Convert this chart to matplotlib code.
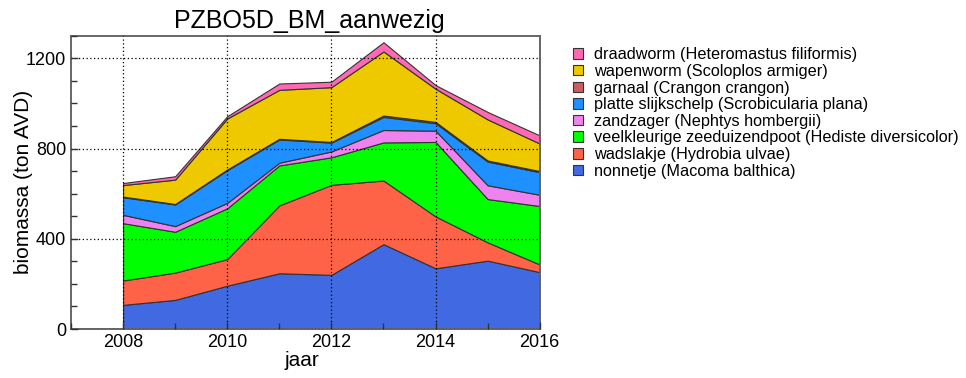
import matplotlib
matplotlib.use("Agg")
import matplotlib.pyplot as plt
from matplotlib.patches import Patch
from matplotlib.ticker import MultipleLocator
import numpy as np

plt.rcParams['font.family'] = ['Liberation Sans', 'DejaVu Sans']

jaren = [2008, 2009, 2010, 2011, 2012, 2013, 2014, 2015, 2016]

# biomassa per soort (ton AVD), van onder naar boven gestapeld
nonnetje = [107, 129, 192, 247, 240, 376, 269, 303, 252]
wadslakje = [108, 121, 118, 301, 399, 282, 230, 81, 34]
veelkleurige = [254, 181, 225, 177, 122, 169, 330, 192, 259]
zandzager = [37, 25, 24, 12, 26, 55, 50, 61, 50]
platte_slijkschelp = [78, 96, 145, 103, 39, 58, 33, 105, 100]
garnaal = [3, 2, 3, 3, 3, 6, 6, 5, 5]
wapenworm = [51, 108, 226, 217, 243, 284, 147, 182, 122]
draadworm = [9, 15, 10, 28, 24, 41, 16, 33, 36]

soorten = [
    ('nonnetje (Macoma balthica)', nonnetje, '#4169E1'),
    ('wadslakje (Hydrobia ulvae)', wadslakje, '#FF6347'),
    ('veelkleurige zeeduizendpoot (Hediste diversicolor)', veelkleurige, '#00FF00'),
    ('zandzager (Nephtys hombergii)', zandzager, '#EE82EE'),
    ('platte slijkschelp (Scrobicularia plana)', platte_slijkschelp, '#1E90FF'),
    ('garnaal (Crangon crangon)', garnaal, '#CD5C5C'),
    ('wapenworm (Scoloplos armiger)', wapenworm, '#EEC900'),
    ('draadworm (Heteromastus filiformis)', draadworm, '#FF69B4'),
]

fig = plt.figure(figsize=(9.66, 3.78), dpi=100)
ax = fig.add_axes([0.0735, 0.1296, 0.4852, 0.776])

onder = np.zeros(len(jaren))
for naam, waarden, kleur in soorten:
    boven = onder + np.array(waarden, dtype=float)
    ax.fill_between(jaren, onder, boven, facecolor=kleur, edgecolor='#333333',
                    linewidth=0.8, zorder=2)
    onder = boven

ax.set_xlim(2007, 2016)
ax.set_ylim(0, 1300)
ax.xaxis.set_major_locator(MultipleLocator(2))
ax.xaxis.set_minor_locator(MultipleLocator(1))
ax.yaxis.set_major_locator(MultipleLocator(400))
ax.yaxis.set_minor_locator(MultipleLocator(100))
ax.tick_params(which='both', direction='in', color='#333333', labelsize=13)
ax.tick_params(which='major', length=5, width=1)
ax.tick_params(which='minor', length=4, width=1)
ax.grid(True, which='major', color='black', linestyle=(0, (1, 2)), linewidth=0.9, zorder=3)
ax.set_axisbelow(False)
for s in ax.spines.values():
    s.set_color('#666666')
    s.set_linewidth(1.4)

ax.set_title('PZBO5D_BM_aanwezig', fontsize=18, pad=5.5, x=0.508)
ax.set_xlabel('jaar', fontsize=15)
ax.set_ylabel('biomassa (ton AVD)', fontsize=15)
ax.xaxis.set_label_coords(0.493, -0.075)
ax.yaxis.set_label_coords(-0.081, 0.5)

handles = [Patch(facecolor=k, edgecolor='#333333', linewidth=0.8, label=n)
           for n, w, k in reversed(soorten)]
fig.legend(handles=handles, loc='upper left', bbox_to_anchor=(0.593, 0.875),
           frameon=False, fontsize=11.7, handlelength=0.62, handleheight=0.62,
           handletextpad=0.68, labelspacing=0.1, borderaxespad=0, borderpad=0)

fig.savefig('out.png', dpi=100)
